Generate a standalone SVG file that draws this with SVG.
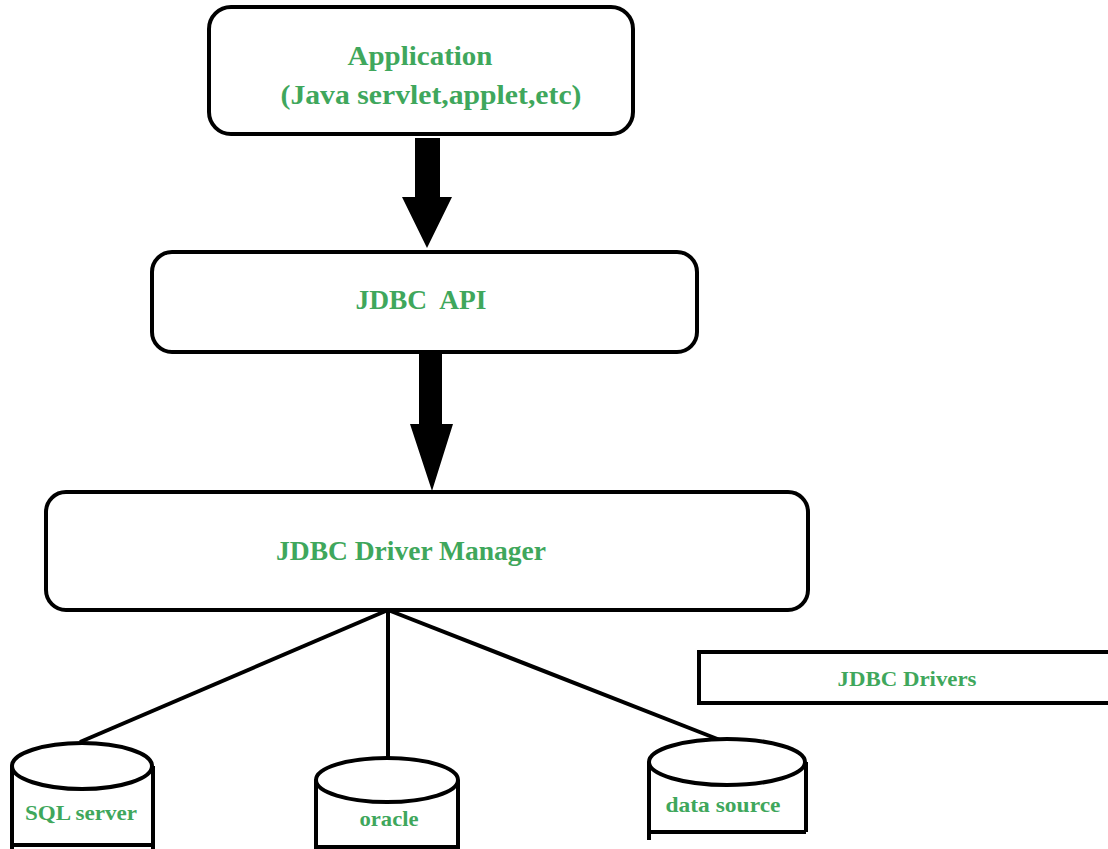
<svg xmlns="http://www.w3.org/2000/svg" width="1108" height="849" viewBox="0 0 1108 849">
<style>
.box{fill:#fff;stroke:#000;stroke-width:4}
.ln{stroke:#000;stroke-width:4;fill:none}
.t{font-family:"Liberation Serif","Times New Roman",serif;font-weight:bold;fill:#3fa75c;text-anchor:middle}
</style>
<rect width="1108" height="849" fill="#fff"/>
<g id="connectors">
<polygon points="415,138 440,138 440,197 452,197 427,248 402,197 415,197" fill="#000"/>
<polygon points="419,354 442,354 442,424 453,424 432,491 410,424 419,424" fill="#000"/>
<line class="ln" x1="388" y1="610" x2="80" y2="742"/>
<line class="ln" x1="388" y1="610" x2="388" y2="760"/>
<line class="ln" x1="388" y1="610" x2="720" y2="740"/>
</g>
<g id="application">
<rect class="box" x="209" y="7" width="424" height="127" rx="22"/>
<text class="t" x="420" y="65" font-size="28" textLength="145" lengthAdjust="spacingAndGlyphs">Application</text>
<text class="t" x="431" y="104" font-size="28" textLength="301" lengthAdjust="spacingAndGlyphs">(Java servlet,applet,etc)</text>
</g>
<g id="jdbc-api">
<rect class="box" x="152" y="252" width="545" height="100" rx="20"/>
<text class="t" x="421" y="309" font-size="27" textLength="131" lengthAdjust="spacingAndGlyphs" xml:space="preserve">JDBC  API</text>
</g>
<g id="driver-manager">
<rect class="box" x="46" y="492" width="762" height="118" rx="20"/>
<text class="t" x="411" y="560" font-size="27" textLength="270" lengthAdjust="spacingAndGlyphs">JDBC Driver Manager</text>
</g>
<g id="jdbc-drivers">
<rect class="box" x="699" y="652" width="420" height="51"/>
<text class="t" x="907" y="686" font-size="21" textLength="139" lengthAdjust="spacingAndGlyphs">JDBC Drivers</text>
</g>
<g id="sql-server">
<path class="ln" d="M12,766 L12,849 M153,766 L153,849 M12,845 L153,845"/>
<ellipse class="box" cx="82" cy="766" rx="70" ry="23"/>
<text class="t" x="81" y="820" font-size="21" textLength="112" lengthAdjust="spacingAndGlyphs">SQL server</text>
</g>
<g id="oracle">
<path class="ln" d="M316,780 L316,849 M458,780 L458,849 M316,847 L458,847"/>
<ellipse class="box" cx="387" cy="780" rx="71" ry="22"/>
<text class="t" x="389" y="826" font-size="21" textLength="59" lengthAdjust="spacingAndGlyphs">oracle</text>
</g>
<g id="data-source">
<path class="ln" d="M649,762 L649,840 M806,762 L806,832 M649,832 L806,832"/>
<ellipse class="box" cx="727" cy="762" rx="78" ry="23"/>
<text class="t" x="723" y="812" font-size="21" textLength="115" lengthAdjust="spacingAndGlyphs">data source</text>
</g>
</svg>
